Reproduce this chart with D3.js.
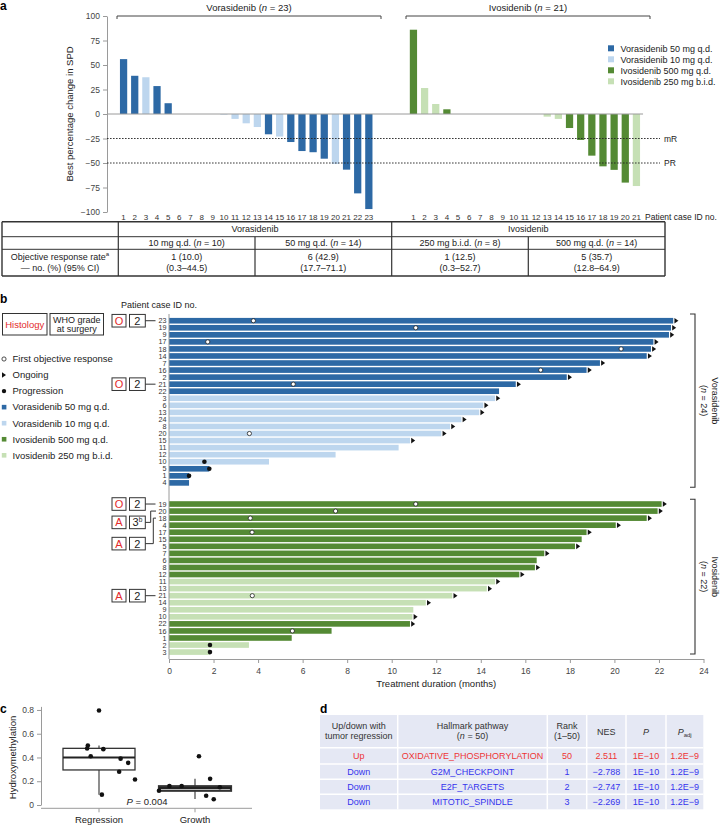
<!DOCTYPE html>
<html>
<head>
<meta charset="utf-8">
<script src="https://cdn.jsdelivr.net/npm/d3@7"></script>
<style>
  body { margin: 0; background: #fff; }
  svg { font-family: "Liberation Sans", Arial, sans-serif; }
</style>
</head>
<body>
<svg id="fig" width="722" height="827"></svg>
<script>
// ---------- data: panel a (waterfall) ----------
const voraIds = [1,2,3,4,5,6,7,8,9,10,11,12,13,14,15,16,17,18,19,20,21,22,23];
const voraChange = [56, 39, 37.5, 28.5, 11, 0, 0, 0, 0, -0.6, -5, -9.5, -13.3, -20.7, -23, -28.6, -37.8, -39, -45.6, -51, -56.8, -81, -97];
const voraDose = ['50','50','10','50','50','50','50','50','50','10','10','10','10','50','10','50','50','50','50','10','50','50','50'];
const ivoIds = [1,2,3,4,5,6,7,8,9,10,11,12,13,14,15,16,17,18,19,20,21];
const ivoChange = [86, 26.5, 10.2, 4.8, 0, 0, 0, 0, 0, 0, 0, 0, -2.7, -5, -14.3, -26.5, -42.5, -53.4, -57, -70, -73.5];
const ivoDose = ['500','250','250','500','500','500','500','500','500','500','500','500','250','250','500','500','500','500','500','500','250'];
const yTicksA = [100, 75, 50, 25, 0, -25, -50, -75, -100];
const thresholds = [{v: -25, label: 'mR'}, {v: -50, label: 'PR'}];

// table under panel a
const armNames = ['Vorasidenib', 'Ivosidenib'];
const doseGroups = ['10 mg q.d. (n = 10)', '50 mg q.d. (n = 14)', '250 mg b.i.d. (n = 8)', '500 mg q.d. (n = 14)'];
const orrCounts = ['1 (10.0)', '6 (42.9)', '1 (12.5)', '5 (35.7)'];
const orrCI = ['(0.3–44.5)', '(17.7–71.1)', '(0.3–52.7)', '(12.8–64.9)'];

// ---------- data: panel b (swimmer) ----------
const voraSwimId = [23,19,9,17,18,14,7,16,2,21,22,3,6,13,24,8,20,15,11,12,10,5,1,4];
const voraSwimDose = ['50','50','50','50','50','50','50','50','50','50','50','10','10','10','10','10','10','10','10','10','10','50','50','50'];
const voraSwimDur = [22.64,22.54,22.45,21.75,21.64,21.45,19.35,18.75,17.86,15.57,14.82,14.64,14.11,13.93,13.13,12.62,12.23,10.82,10.31,7.48,4.49,1.81,0.9,0.9];
const voraOngoing = [1,1,1,1,1,1,1,1,1,1,0,1,1,1,1,1,1,1,0,0,0,0,0,0];
const voraResponse = [3.79,11.08,null,1.74,20.3,null,null,16.69,null,5.58,null,null,null,null,null,null,3.61,null,null,null,null,null,null,null];
const voraProgression = [null,null,null,null,null,null,null,null,null,null,null,null,null,null,null,null,null,null,null,null,1.59,1.81,0.9,null];

const ivoSwimId = [19,20,18,4,17,15,5,7,6,8,12,11,13,21,14,9,10,22,16,1,2,3];
const ivoSwimDose = ['500','500','500','500','500','500','500','500','500','500','500','250','250','250','250','250','250','500','500','500','250','250'];
const ivoSwimDur = [22.12,21.94,21.45,20.06,18.75,18.53,18.23,16.85,16.51,16.43,15.73,14.64,14.27,12.72,11.53,10.97,10.93,10.82,7.3,5.51,3.59,1.84];
const ivoOngoing = [1,1,1,1,1,0,1,1,0,1,1,1,1,1,1,0,1,1,0,0,0,0];
const ivoResponse = [11.08,7.48,3.65,null,3.73,null,null,null,null,null,null,null,null,3.74,null,null,null,null,5.54,null,null,null];
const ivoProgression = [null,null,null,null,null,null,null,null,null,null,null,null,null,null,null,null,null,null,null,null,1.84,1.84];

const xTicksB = [0,2,4,6,8,10,12,14,16,18,20,22,24];
// histology / WHO grade annotations
const annotSlot = ['v23','v21','i19','i20','i18','i21'];
const annotHist = ['O','O','O','A','A','A'];
const annotGrade = ['2','2','2','3','2','2'];
const annotSup = ['','','','b','',''];

// ---------- data: panel c (box plot) ----------
const groupsC = ['Regression', 'Growth'];
const regValues = [0.50, 0.475, 0.41, 0.795, 0.47, 0.39, 0.28, 0.355, 0.215, 0.087];
const regJitter = [-0.31, -0.33, -0.23, 0, 0.12, 0.6, 0.56, 0.81, 1.0, 0.08];
const groValues = [0.12, 0.16, 0.16, 0.41, 0.22, 0.078, 0.048, 0.15];
const groJitter = [-1.0, -0.71, -0.37, 0.11, 0.42, 0.31, 0.52, 0.69];
// [low whisker, q1, median, q3, high whisker]
const regBox = [0.087, 0.295, 0.40, 0.477, 0.50];
const groBox = [0.05, 0.12, 0.143, 0.158, 0.22];
const yTicksC = [0, 0.2, 0.4, 0.6, 0.8];

// ---------- data: panel d (table) ----------
const dDirection = ['Up', 'Down', 'Down', 'Down'];
const dPathway = ['OXIDATIVE_PHOSPHORYLATION', 'G2M_CHECKPOINT', 'E2F_TARGETS', 'MITOTIC_SPINDLE'];
const dRank = ['50', '1', '2', '3'];
const dNES = ['2.511', '−2.788', '−2.747', '−2.269'];
const dP = ['1E−10', '1E−10', '1E−10', '1E−10'];
const dPadj = ['1.2E−9', '1.2E−9', '1.2E−9', '1.2E−9'];

// ---------- colours ----------
const colors = { '50': '#2d69a5', '10': '#bdd6ee', '500': '#548a34', '250': '#c6e0b5' };
const ink = '#222';
const axisGray = '#9a9a9a';
const minus = v => (v < 0 ? '−' + Math.abs(v) : String(v));

const svg = d3.select('#fig');

// italic-n helper: "(n = 23)" style strings
function nText(sel, x, y, str, size, anchor) {
  const t = sel.append('text').attr('x', x).attr('y', y)
    .attr('text-anchor', anchor || 'middle').attr('font-size', size).attr('fill', ink);
  const parts = str.split(/(\bn\b)/);
  parts.forEach(p => {
    const s = t.append('tspan').text(p);
    if (p === 'n') s.attr('font-style', 'italic');
  });
  return t;
}

// panel letters
[['a', 0, 10], ['b', 0, 303], ['c', 0, 713], ['d', 320, 713]].forEach(([l, x, y]) => {
  svg.append('text').attr('x', x).attr('y', y).attr('font-size', 12)
    .attr('font-weight', 'bold').text(l);
});

// =================== panel a ===================
const slotsA = [...voraIds.map(d => 'v' + d), 'g1', 'g2', 'g3', ...ivoIds.map(d => 'i' + d)];
const xA = d3.scaleBand().domain(slotsA).range([118, 642]).paddingInner(0.35).paddingOuter(0.175);
const yA = d3.scaleLinear().domain([-100, 100]).range([212, 16]);
const gA = svg.append('g');

const yAxisA = gA.append('g').attr('transform', 'translate(107,0)')
  .call(d3.axisLeft(yA).tickValues(yTicksA).tickSize(4).tickSizeOuter(0).tickFormat(minus));
yAxisA.select('.domain').attr('stroke', axisGray);
yAxisA.selectAll('.tick line').attr('stroke', axisGray);
yAxisA.selectAll('.tick text').attr('font-size', 8.5).attr('fill', '#444').attr('font-family', null);

gA.append('text').attr('transform', `translate(73,${yA(0)}) rotate(-90)`)
  .attr('text-anchor', 'middle').attr('font-size', 9.5).attr('fill', ink)
  .text('Best percentage change in SPD');

const barsA = [
  ...voraIds.map((id, i) => ({ slot: 'v' + id, id, v: voraChange[i], dose: voraDose[i] })),
  ...ivoIds.map((id, i) => ({ slot: 'i' + id, id, v: ivoChange[i], dose: ivoDose[i] }))
];

gA.selectAll('.barA').data(barsA.filter(d => d.v !== 0)).enter().append('rect')
  .attr('x', d => xA(d.slot)).attr('width', xA.bandwidth())
  .attr('y', d => Math.min(yA(d.v), yA(0)))
  .attr('height', d => Math.abs(yA(d.v) - yA(0)))
  .attr('fill', d => colors[d.dose]);

gA.append('line').attr('x1', 107).attr('x2', xA(slotsA[slotsA.length - 1]) + xA.bandwidth() + 3)
  .attr('y1', yA(0)).attr('y2', yA(0)).attr('stroke', axisGray).attr('stroke-width', 1);

thresholds.forEach(t => {
  gA.append('line').attr('x1', 107).attr('x2', 660).attr('y1', yA(t.v)).attr('y2', yA(t.v))
    .attr('stroke', ink).attr('stroke-width', 0.9).attr('stroke-dasharray', '1.6,1.4');
  gA.append('text').attr('x', 664).attr('y', yA(t.v) + 3).attr('font-size', 8.5).attr('fill', ink).text(t.label);
});

gA.selectAll('.idA').data(barsA).enter().append('text')
  .attr('x', d => xA(d.slot) + xA.bandwidth() / 2).attr('y', 219.5)
  .attr('text-anchor', 'middle').attr('font-size', 8).attr('fill', '#333').text(d => d.id);
gA.append('text').attr('x', 645).attr('y', 219.5).attr('font-size', 8.5).attr('fill', ink).text('Patient case ID no.');

// top brackets
function topBracket(x1, x2, label) {
  gA.append('path').attr('d', `M${x1},19V16H${x2}V19`).attr('fill', 'none').attr('stroke', '#444').attr('stroke-width', 1);
  nText(gA, (x1 + x2) / 2, 10.5, label, 9.5);
}
topBracket(117, 381, 'Vorasidenib (n = 23)');
topBracket(406, 650, 'Ivosidenib (n = 21)');

// legend
const legendA = [['50', 'Vorasidenib 50 mg q.d.'], ['10', 'Vorasidenib 10 mg q.d.'], ['500', 'Ivosidenib 500 mg q.d.'], ['250', 'Ivosidenib 250 mg b.i.d.']];
legendA.forEach(([k, label], i) => {
  const y = 48.3 + i * 11;
  gA.append('rect').attr('x', 608).attr('y', y - 3).attr('width', 6).attr('height', 6).attr('fill', colors[k]);
  gA.append('text').attr('x', 620.5).attr('y', y + 3.2).attr('font-size', 9).attr('fill', ink).text(label);
});

// table
const tb = svg.append('g');
const colX = [2, 118.3, 255, 391.7, 528.3, 665];
const rowY = [221.7, 236.7, 249.3, 276];
const line = (x1, y1, x2, y2, w) => tb.append('line').attr('x1', x1).attr('y1', y1).attr('x2', x2).attr('y2', y2)
  .attr('stroke', '#333').attr('stroke-width', w || 1);
rowY.forEach((y, i) => line(colX[0], y, colX[5], y, (i === 0 || i === 3) ? 1.4 : 1));
line(colX[0], rowY[0], colX[0], rowY[3], 1.4);
line(colX[5], rowY[0], colX[5], rowY[3], 1.4);
line(colX[1], rowY[0], colX[1], rowY[3], 1.2);
line(colX[3], rowY[0], colX[3], rowY[3], 1.2);
line(colX[2], rowY[1], colX[2], rowY[3], 1.2);
line(colX[4], rowY[1], colX[4], rowY[3], 1.2);
armNames.forEach((a, i) => {
  tb.append('text').attr('x', (colX[1 + 2 * i] + colX[3 + 2 * i]) / 2).attr('y', 232.3)
    .attr('text-anchor', 'middle').attr('font-size', 9).attr('fill', ink).text(a);
});
doseGroups.forEach((d, i) => nText(tb, (colX[1 + i] + colX[2 + i]) / 2, 246, d, 9));
orrCounts.forEach((d, i) => {
  const cx = (colX[1 + i] + colX[2 + i]) / 2;
  tb.append('text').attr('x', cx).attr('y', 259.7).attr('text-anchor', 'middle').attr('font-size', 9).attr('fill', ink).text(d);
  tb.append('text').attr('x', cx).attr('y', 271).attr('text-anchor', 'middle').attr('font-size', 9).attr('fill', ink).text(orrCI[i]);
});
const orrT = tb.append('text').attr('x', 60).attr('y', 259.7).attr('text-anchor', 'middle').attr('font-size', 9).attr('fill', ink);
orrT.append('tspan').text('Objective response rate');
orrT.append('tspan').text('a').attr('font-size', 6).attr('dy', -3.5);
tb.append('text').attr('x', 60).attr('y', 271).attr('text-anchor', 'middle').attr('font-size', 9).attr('fill', ink).text('— no. (%) (95% CI)');

// =================== panel b ===================
const gB = svg.append('g');
const slotsB = [...voraSwimId.map(d => 'v' + d), 'gap1', 'gap2', ...ivoSwimId.map(d => 'i' + d)];
const yB = d3.scaleBand().domain(slotsB).range([317.2, 655.6]).paddingInner(0.2).paddingOuter(0.1);
const xB = d3.scaleLinear().domain([0, 24]).range([169, 703.5]);

const swim = [
  ...voraSwimId.map((id, i) => ({ slot: 'v' + id, id, dur: voraSwimDur[i], dose: voraSwimDose[i], on: voraOngoing[i], resp: voraResponse[i], prog: voraProgression[i] })),
  ...ivoSwimId.map((id, i) => ({ slot: 'i' + id, id, dur: ivoSwimDur[i], dose: ivoSwimDose[i], on: ivoOngoing[i], resp: ivoResponse[i], prog: ivoProgression[i] }))
];
const cy = d => yB(d.slot) + yB.bandwidth() / 2;

gB.selectAll('.swim').data(swim).enter().append('rect')
  .attr('x', xB(0)).attr('y', d => yB(d.slot))
  .attr('width', d => xB(d.dur) - xB(0)).attr('height', yB.bandwidth())
  .attr('fill', d => colors[d.dose]);

gB.selectAll('.arrow').data(swim.filter(d => d.on)).enter().append('path')
  .attr('d', d => { const x = xB(d.dur) + 1.2, y = cy(d); return `M${x},${y - 2.8}L${x + 4},${y}L${x},${y + 2.8}Z`; })
  .attr('fill', '#111');
gB.selectAll('.resp').data(swim.filter(d => d.resp != null)).enter().append('circle')
  .attr('cx', d => xB(d.resp)).attr('cy', cy).attr('r', 2.1)
  .attr('fill', '#fff').attr('stroke', '#222').attr('stroke-width', 0.8);
gB.selectAll('.prog').data(swim.filter(d => d.prog != null)).enter().append('circle')
  .attr('cx', d => xB(d.prog)).attr('cy', cy).attr('r', 2.3).attr('fill', '#111');

gB.selectAll('.rowlab').data(swim).enter().append('text')
  .attr('x', 166.5).attr('y', d => cy(d) + 2.6).attr('text-anchor', 'end')
  .attr('font-size', 7.2).attr('fill', '#333').text(d => d.id);

gB.append('line').attr('x1', xB(0)).attr('x2', xB(0)).attr('y1', 314).attr('y2', 659)
  .attr('stroke', axisGray).attr('stroke-width', 1);
const xAxisB = gB.append('g').attr('transform', 'translate(0,659)')
  .call(d3.axisBottom(xB).tickValues(xTicksB).tickSize(4).tickSizeOuter(0));
xAxisB.select('.domain').attr('stroke', axisGray);
xAxisB.selectAll('.tick line').attr('stroke', axisGray);
xAxisB.selectAll('.tick text').attr('font-size', 8.5).attr('fill', '#444').attr('font-family', null).attr('dy', '0.95em');
gB.append('text').attr('x', (xB(0) + xB(24)) / 2).attr('y', 687).attr('text-anchor', 'middle')
  .attr('font-size', 9.5).attr('fill', ink).text('Treatment duration (months)');

gB.append('text').attr('x', 121).attr('y', 308).attr('font-size', 9).attr('fill', ink).text('Patient case ID no.');

// right brackets
function sideBracket(y1, y2, name, n) {
  gB.append('path').attr('d', `M690,${y1}H695V${y2}H690`).attr('fill', 'none').attr('stroke', '#333').attr('stroke-width', 1.1);
  const m = (y1 + y2) / 2;
  gB.append('text').attr('transform', `translate(712,${m}) rotate(90)`).attr('text-anchor', 'middle')
    .attr('font-size', 9).attr('fill', ink).text(name);
  nText(gB, 0, 0, `(n = ${n})`, 9).attr('transform', `translate(701,${m}) rotate(90)`);
}
sideBracket(314, 487.3, 'Vorasidenib', 24);
sideBracket(499.3, 654, 'Ivosidenib', 22);

// header boxes
function box(x, y, w, h) {
  return gB.append('rect').attr('x', x).attr('y', y).attr('width', w).attr('height', h)
    .attr('fill', '#fff').attr('stroke', '#333').attr('stroke-width', 1);
}
box(2.5, 313.5, 44.5, 21.5);
gB.append('text').attr('x', 24.7).attr('y', 327.5).attr('text-anchor', 'middle').attr('font-size', 9.5).attr('fill', '#e32b2b').text('Histology');
box(50, 313.5, 53.5, 21.5);
gB.append('text').attr('x', 76.7).attr('y', 322.5).attr('text-anchor', 'middle').attr('font-size', 9).attr('fill', ink).text('WHO grade');
gB.append('text').attr('x', 76.7).attr('y', 332.3).attr('text-anchor', 'middle').attr('font-size', 9).attr('fill', ink).text('at surgery');

// left legend
const legendB = [['open', 'First objective response'], ['arrow', 'Ongoing'], ['dot', 'Progression'],
  ['50', 'Vorasidenib 50 mg q.d.'], ['10', 'Vorasidenib 10 mg q.d.'], ['500', 'Ivosidenib 500 mg q.d.'], ['250', 'Ivosidenib 250 mg b.i.d.']];
legendB.forEach(([k, label], i) => {
  const y = 359 + i * 16.05;
  if (k === 'open') gB.append('circle').attr('cx', 4).attr('cy', y).attr('r', 2.1).attr('fill', '#fff').attr('stroke', '#222').attr('stroke-width', 0.8);
  else if (k === 'arrow') gB.append('path').attr('d', `M2,${y - 2.8}L6,${y}L2,${y + 2.8}Z`).attr('fill', '#111');
  else if (k === 'dot') gB.append('circle').attr('cx', 4).attr('cy', y).attr('r', 2.2).attr('fill', '#111');
  else gB.append('rect').attr('x', 1.8).attr('y', y - 2.3).attr('width', 4.6).attr('height', 4.6).attr('fill', colors[k]);
  gB.append('text').attr('x', 12.5).attr('y', y + 3.3).attr('font-size', 9.5).attr('fill', ink).text(label);
});

// histology / grade annotations
const boxOffset = { i20: 11.3, i18: 25.5 };
const bracketX = { i20: 150.7, i18: 153.3 };
annotSlot.forEach((s, i) => {
  const ry = yB(s) + yB.bandwidth() / 2;
  const by = ry + (boxOffset[s] || 0);
  box(112, by - 6.3, 14, 12.6);
  gB.append('text').attr('x', 119).attr('y', by + 4).attr('text-anchor', 'middle').attr('font-size', 11).attr('fill', '#e32b2b').text(annotHist[i]);
  box(129.5, by - 6.3, 15.8, 12.6);
  const gt = gB.append('text').attr('x', 137.4).attr('y', by + 4).attr('text-anchor', 'middle').attr('font-size', 11).attr('fill', ink);
  gt.append('tspan').text(annotGrade[i]);
  if (annotSup[i]) gt.append('tspan').text(annotSup[i]).attr('font-size', 6.5).attr('dy', -4.5);
  if (boxOffset[s]) {
    const bx = bracketX[s];
    gB.append('path').attr('d', `M145.3,${by}H${bx}V${ry}H156`).attr('fill', 'none').attr('stroke', '#333').attr('stroke-width', 1);
  } else {
    gB.append('line').attr('x1', 145.3).attr('x2', 155.5).attr('y1', ry).attr('y2', ry).attr('stroke', '#333').attr('stroke-width', 1);
  }
});

// =================== panel c ===================
const gC = svg.append('g');
const xC = d3.scaleBand().domain(groupsC).range([51, 243]);
const yC = d3.scaleLinear().domain([0, 0.83]).range([805, 706.4]);
const yAxisC = gC.append('g').attr('transform', 'translate(41,0)')
  .call(d3.axisLeft(yC).tickValues(yTicksC).tickSize(4).tickSizeOuter(0).tickFormat(d => d === 0 ? '0' : d.toFixed(1)));
yAxisC.select('.domain').attr('stroke', axisGray);
yAxisC.selectAll('.tick line').attr('stroke', axisGray);
yAxisC.selectAll('.tick text').attr('font-size', 8.5).attr('fill', '#444').attr('font-family', null);
gC.append('line').attr('x1', 41).attr('x2', 252).attr('y1', 808.3).attr('y2', 808.3).attr('stroke', axisGray);
groupsC.forEach(g => {
  const x = xC(g) + xC.bandwidth() / 2;
  gC.append('line').attr('x1', x).attr('x2', x).attr('y1', 808.3).attr('y2', 812.3).attr('stroke', axisGray);
  gC.append('text').attr('x', x).attr('y', 823).attr('text-anchor', 'middle').attr('font-size', 9.5).attr('fill', ink).text(g);
});
gC.append('text').attr('transform', `translate(16,${yC(0.4)}) rotate(-90)`).attr('text-anchor', 'middle')
  .attr('font-size', 9.5).attr('fill', ink).text('Hydroxymethylation');

function drawBox(group, st, sw) {
  const cx = xC(group) + xC.bandwidth() / 2, hw = 36;
  gC.append('line').attr('x1', cx).attr('x2', cx).attr('y1', yC(st[0])).attr('y2', yC(st[1])).attr('stroke', '#444').attr('stroke-width', 1.2);
  gC.append('line').attr('x1', cx).attr('x2', cx).attr('y1', yC(st[3])).attr('y2', yC(st[4])).attr('stroke', '#444').attr('stroke-width', 1.2);
  gC.append('rect').attr('x', cx - hw).attr('y', yC(st[3])).attr('width', 2 * hw).attr('height', yC(st[1]) - yC(st[3]))
    .attr('fill', 'none').attr('stroke', '#333').attr('stroke-width', sw);
  gC.append('line').attr('x1', cx - hw).attr('x2', cx + hw).attr('y1', yC(st[2])).attr('y2', yC(st[2])).attr('stroke', '#222').attr('stroke-width', 2);
  return cx;
}
const cReg = drawBox('Regression', regBox, 1.3);
const cGro = drawBox('Growth', groBox, 2.2);
const ptsC = [
  ...regValues.map((v, i) => ({ x: cReg + regJitter[i] * 36, v })),
  ...groValues.map((v, i) => ({ x: cGro + groJitter[i] * 36, v }))
];
gC.selectAll('.ptC').data(ptsC).enter().append('circle')
  .attr('cx', d => d.x).attr('cy', d => yC(d.v)).attr('r', 2.3).attr('fill', '#111');
const pT = gC.append('text').attr('x', 147).attr('y', 804.5).attr('text-anchor', 'middle').attr('font-size', 9.5).attr('fill', ink);
pT.append('tspan').text('P').attr('font-style', 'italic');
pT.append('tspan').text(' = 0.004');

// =================== panel d ===================
const gD = svg.append('g');
const cx = [320, 397.7, 547.3, 586.7, 626, 666, 703.3];
const ry = [715, 747.7, 764, 779.3, 794.3, 809.3];
gD.append('rect').attr('x', cx[0]).attr('y', ry[0]).attr('width', cx[6] - cx[0]).attr('height', ry[5] - ry[0]).attr('fill', '#e5e8f4');
cx.slice(1, 6).forEach(x => gD.append('line').attr('x1', x).attr('x2', x).attr('y1', ry[0]).attr('y2', ry[5]).attr('stroke', '#fff').attr('stroke-width', 1.5));
ry.slice(1, 5).forEach(y => gD.append('line').attr('x1', cx[0]).attr('x2', cx[6]).attr('y1', y).attr('y2', y).attr('stroke', '#fff').attr('stroke-width', 1.5));
const mid = i => (cx[i] + cx[i + 1]) / 2;
const hdr = (i, y, str) => nText(gD, mid(i), y, str, 9).attr('fill', '#333');
hdr(0, 728.5, 'Up/down with'); hdr(0, 739, 'tumor regression');
hdr(1, 728.5, 'Hallmark pathway'); hdr(1, 739, '(n = 50)');
hdr(2, 728.5, 'Rank'); hdr(2, 739, '(1–50)');
hdr(3, 734.5, 'NES');
gD.append('text').attr('x', mid(4)).attr('y', 734.5).attr('text-anchor', 'middle').attr('font-size', 9).attr('font-style', 'italic').attr('fill', '#333').text('P');
const pa = gD.append('text').attr('x', mid(5)).attr('y', 734.5).attr('text-anchor', 'middle').attr('font-size', 9).attr('fill', '#333');
pa.append('tspan').text('P').attr('font-style', 'italic');
pa.append('tspan').text('adj').attr('font-size', 6).attr('dy', 2.5);
const rowsD = dDirection.map((d, i) => [d, dPathway[i], dRank[i], dNES[i], dP[i], dPadj[i]]);
rowsD.forEach((r, i) => {
  const y = (ry[i + 1] + ry[i + 2]) / 2 + 3.2;
  const fill = r[0] === 'Up' ? '#ee3535' : '#3535ee';
  r.forEach((s, j) => gD.append('text').attr('x', mid(j)).attr('y', y).attr('text-anchor', 'middle')
    .attr('font-size', 9).attr('fill', fill).text(s));
});
</script>
</body>
</html>
